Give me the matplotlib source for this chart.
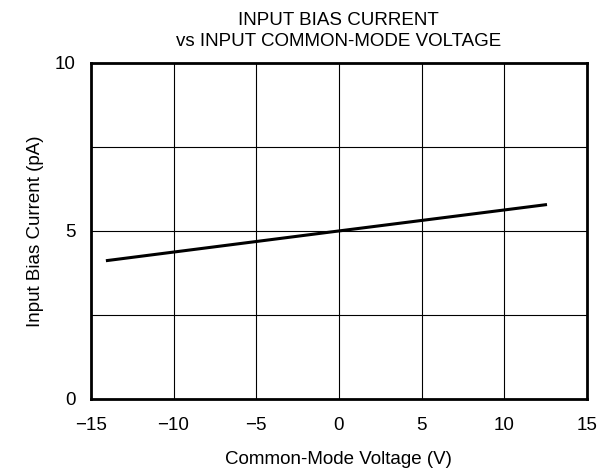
import matplotlib
matplotlib.use("Agg")
import matplotlib.pyplot as plt

# data
vcm = [-14.0, 0.0, 12.5]
ib = [4.12, 5.0, 5.78]

x_ticks = [-15, -10, -5, 0, 5, 10, 15]
x_tick_labels = ["\u221215", "\u221210", "\u22125", "0", "5", "10", "15"]
y_ticks = [0, 5, 10]
y_grid = [2.5, 5, 7.5]

plt.rcParams["font.family"] = ["Liberation Sans", "DejaVu Sans"]
FS = 13.5

fig = plt.figure(figsize=(6.1, 4.72), dpi=100)
ax = fig.add_axes([0.149, 0.1547, 0.813, 0.712])

for gx in x_ticks[1:-1]:
    ax.axvline(gx, color="black", lw=0.8, zorder=1)
for gy in y_grid:
    ax.axhline(gy, color="black", lw=0.8, zorder=1)

ax.plot(vcm, ib, color="black", lw=2.2, zorder=3)

ax.set_xlim(-15, 15)
ax.set_ylim(0, 10)
ax.set_xticks(x_ticks)
ax.set_xticklabels(x_tick_labels)
ax.set_yticks(y_ticks)
ax.tick_params(length=0, labelsize=FS)
ax.tick_params(axis="x", pad=13)
ax.tick_params(axis="y", pad=11)
for s in ax.spines.values():
    s.set_linewidth(2)

ax.set_xlabel("Common-Mode Voltage (V)", fontsize=FS, labelpad=12)
ax.set_ylabel("Input Bias Current (pA)", fontsize=FS, labelpad=8)
ax.set_title("INPUT BIAS CURRENT\nvs INPUT COMMON-MODE VOLTAGE", fontsize=FS,
             pad=12, linespacing=1.35)

fig.savefig("out.png", dpi=100)
